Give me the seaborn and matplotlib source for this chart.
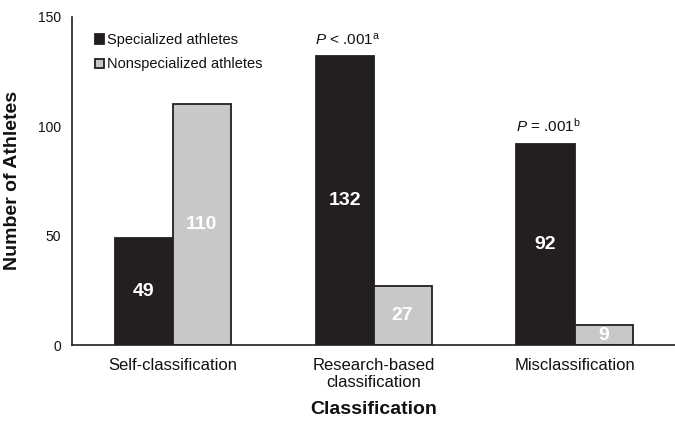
import pandas as pd
import seaborn as sns
import matplotlib.pyplot as plt

# data
categories = ['Self-classification', 'Research-based\nclassification', 'Misclassification']
groups = ['Specialized athletes', 'Nonspecialized athletes']
specialized = [49, 132, 92]
nonspecialized = [110, 27, 9]
p_labels = ['', '$P$ < .001$^{\\mathrm{a}}$', '$P$ = .001$^{\\mathrm{b}}$']

df = pd.DataFrame({
    'Classification': categories * 2,
    'Group': [groups[0]] * 3 + [groups[1]] * 3,
    'Count': specialized + nonspecialized,
})

sns.set_style('white')
plt.rcParams['font.family'] = ['Liberation Sans', 'DejaVu Sans']
plt.rcParams['mathtext.fontset'] = 'custom'
plt.rcParams['mathtext.it'] = 'Liberation Sans:italic'
plt.rcParams['mathtext.rm'] = 'Liberation Sans'
for key in ['text.color', 'axes.labelcolor', 'xtick.color', 'ytick.color']:
    plt.rcParams[key] = '#111111'

fig = plt.figure(figsize=(6.75, 4.21), dpi=100)
ax = fig.add_axes([0.107, 0.1805, 0.893, 0.7795])

palette = {groups[0]: '#231f20', groups[1]: '#c8c8c8'}
sns.barplot(data=df, x='Classification', y='Count', hue='Group', palette=palette,
            width=0.578, edgecolor='#231f20', linewidth=1.3, saturation=1, ax=ax)

for cont in ax.containers:
    ax.bar_label(cont, label_type='center', color='white', fontsize=14, fontweight='bold')

# P-value notes above the specialized bars
for i, txt in enumerate(p_labels):
    if txt:
        ax.text(i - 0.13, specialized[i] + 4, txt, ha='center', va='bottom', fontsize=11)

ax.set_ylim(0, 150)
ax.set_xlim(-0.5, 2.5)
ax.set_yticks([0, 50, 100, 150])
ax.tick_params(axis='y', labelsize=10, length=0, pad=8)
ax.tick_params(axis='x', labelsize=12, length=0, pad=9)
ax.set_ylabel('Number of Athletes', fontsize=14, fontweight='bold', labelpad=12)
ax.set_xlabel('Classification', fontsize=14, fontweight='bold', labelpad=8)

for s in ['top', 'right']:
    ax.spines[s].set_visible(False)
for s in ['left', 'bottom']:
    ax.spines[s].set_color('#231f20')
    ax.spines[s].set_linewidth(1.2)

leg = ax.legend(loc='upper left', bbox_to_anchor=(0.038, 0.95), frameon=False,
                fontsize=10.5, handlelength=0.6, handleheight=0.6, handletextpad=0.2,
                labelspacing=0.7, borderpad=0, borderaxespad=0)

fig.savefig('out.png', dpi=100)
